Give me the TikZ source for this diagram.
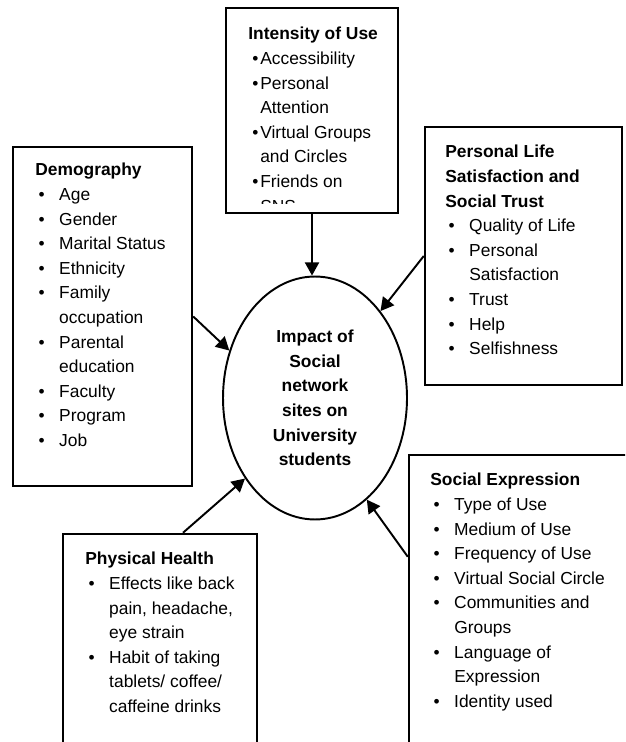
\documentclass[tikz,border=0pt]{standalone}
\usepackage{fontspec}
\setmainfont{Liberation Sans}
\usepackage{tikz}
\usetikzlibrary{shapes, arrows.meta, positioning, fit}

% bullet and hanging indent for the lists
\newcommand{\itm}{\hspace*{1.8pt}\makebox[11.8pt][l]{\textbullet}}
\newcommand{\cnt}{\hspace*{13.6pt}}
\newcommand{\itmb}{\hspace*{2.3pt}\makebox[4.5pt][l]{\textbullet}}
\newcommand{\cntb}{\hspace*{6.8pt}}

\begin{document}
\begin{tikzpicture}[x=0.02cm, y=-0.02cm, font=\fontsize{9.9}{14}\selectfont,
    box/.style={draw, rectangle, inner sep=0pt, line width=1.4pt},
    list/.style={anchor=north west, align=left, inner sep=0pt},
    arr/.style={-{Triangle[length=7.5pt, width=8pt]}, line width=1.1pt}]
        \useasboundingbox (0,0) rectangle (625,742);
        \clip (0,0) rectangle (625,742);

        % centre
        \node[draw, ellipse, line width=1.1pt, minimum width=3.68cm, minimum height=4.86cm, inner sep=0pt, align=center, font=\fontsize{9.9}{14}\selectfont\bfseries] (impact) at (315,398) {Impact of\\Social\\network\\sites on\\University\\students};

        % factor boxes
        \node[box, fit={(226,8) (398,213)}] (intens) {};
        \node[box, fit={(13,147) (192,486)}] (demo) {};
        \node[box, fit={(425,127) (622,385)}] (pers) {};
        \node[box, fit={(409,455) (660,780)}] (expr) {};
        \node[box, fit={(63,534) (257,780)}] (phys) {};

        \begin{scope}
            \clip (226,8) rectangle (398,204);
            \node[list] (intenstxt) at (248,27) {\textbf{Intensity of Use}\\ \itmb Accessibility\\ \itmb Personal\\ \cntb Attention\\ \itmb Virtual Groups\\ \cntb and Circles\\ \itmb Friends on\\ \cntb SNS};
        \end{scope}

        \node[list] (demotxt) at (35,163) {\textbf{Demography}\\ \itm Age\\ \itm Gender\\ \itm Marital Status\\ \itm Ethnicity\\ \itm Family\\ \cnt occupation\\ \itm Parental\\ \cnt education\\ \itm Faculty\\ \itm Program\\ \itm Job};
        \node[list] (perstxt) at (445,145) {\textbf{Personal Life}\\ \textbf{Satisfaction and}\\ \textbf{Social Trust}\\ \itm Quality of Life\\ \itm Personal\\ \cnt Satisfaction\\ \itm Trust\\ \itm Help\\ \itm Selfishness};
        \node[list] (exprtxt) at (430,473) {\textbf{Social Expression}\\ \itm Type of Use\\ \itm Medium of Use\\ \itm Frequency of Use\\ \itm Virtual Social Circle\\ \itm Communities and\\ \cnt Groups\\ \itm Language of\\ \cnt Expression\\ \itm Identity used};
        \node[list] (phystxt) at (85,552) {\textbf{Physical Health}\\ \itm Effects like back\\ \cnt pain, headache,\\ \cnt eye strain\\ \itm Habit of taking\\ \cnt tablets/ coffee/\\ \cnt caffeine drinks};

        % arrows into the centre
        \draw[arr] (intens.south) -- (intens.south |- impact.north);
        \draw[arr] (demo.east) -- (impact.151);
        \draw[arr] (pers.west) -- (impact.53);
        \draw[arr] ([yshift=-2.06cm]expr.north west) -- (impact.-63);
        \draw[arr] ([xshift=0.46cm]phys.north) -- (impact.229);
    \end{tikzpicture}
\end{document}
